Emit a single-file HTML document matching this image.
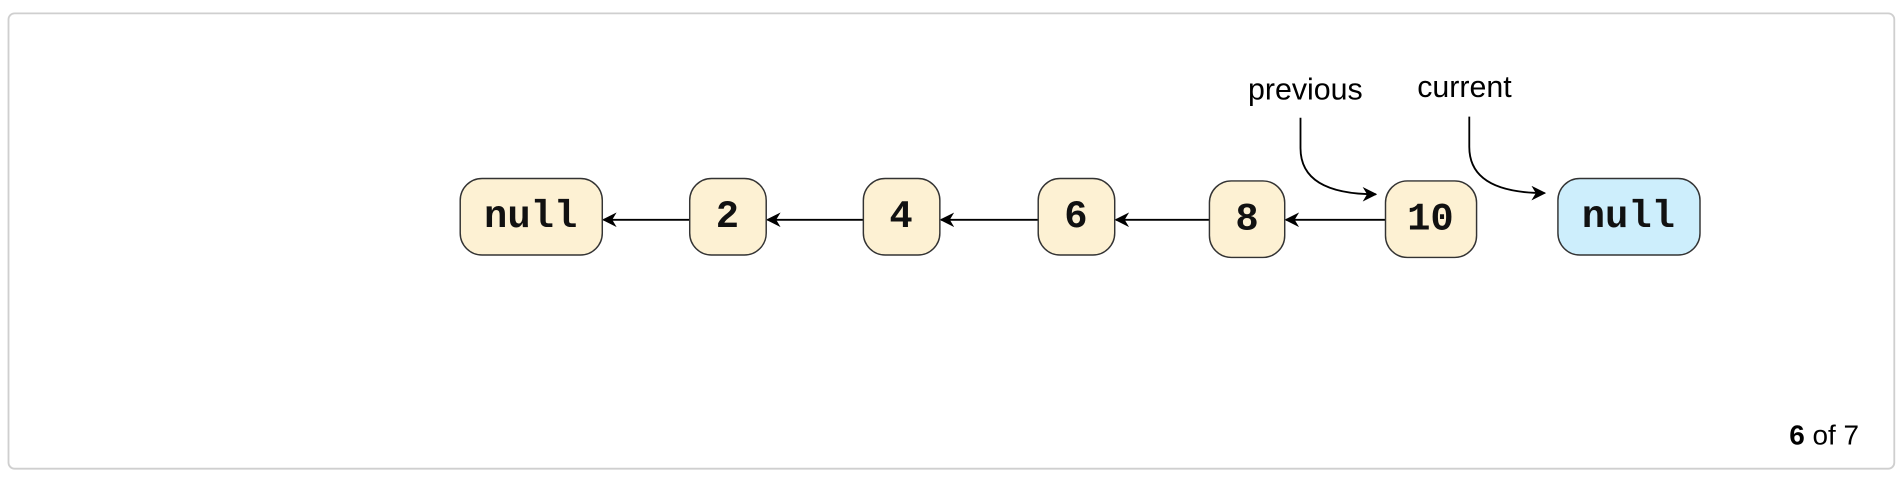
<!DOCTYPE html>
<html><head><meta charset="utf-8"><style>
html,body{margin:0;padding:0;background:#fff;width:1904px;height:484px;overflow:hidden}
svg{display:block}
</style></head><body>
<svg width="1904" height="484" viewBox="0 0 1568 398.6" preserveAspectRatio="none" xmlns="http://www.w3.org/2000/svg">
<defs>
<marker id="b" viewBox="0 0 10 10" refX="9" refY="5" markerWidth="12" markerHeight="12" orient="auto" markerUnits="userSpaceOnUse"><path d="M0,0 L10,5 L0,10 L3,5 Z" fill="#000"/></marker></defs>
<rect x="7" y="11" width="1553" height="375" rx="5" fill="#fff" stroke="#cfcfcf" stroke-width="1.5"/>
<g stroke="#000" stroke-width="1.5" fill="none">
<line x1="568" y1="181" x2="497" y2="181" marker-end="url(#b)"/>
<line x1="711" y1="181" x2="632" y2="181" marker-end="url(#b)"/>
<line x1="855" y1="181" x2="775" y2="181" marker-end="url(#b)"/>
<line x1="996" y1="181" x2="919" y2="181" marker-end="url(#b)"/>
<line x1="1141" y1="181" x2="1059" y2="181" marker-end="url(#b)"/>
<path d="M1071,97 L1071,122 Q1071,160 1133,160" marker-end="url(#b)"/>
<path d="M1210,96 L1210,121 Q1210,159 1272,159" marker-end="url(#b)"/>
</g>
<g stroke="#333" stroke-width="1.2">
<rect x="379" y="147" width="117" height="63" rx="18" fill="#fdf1d3"/>
<rect x="568" y="147" width="63" height="63" rx="18" fill="#fdf1d3"/>
<rect x="711" y="147" width="63" height="63" rx="18" fill="#fdf1d3"/>
<rect x="855" y="147" width="63" height="63" rx="18" fill="#fdf1d3"/>
<rect x="996" y="149" width="62" height="63" rx="18" fill="#fdf1d3"/>
<rect x="1141" y="149" width="75" height="63" rx="18" fill="#fdf1d3"/>
<rect x="1283" y="147" width="117" height="63" rx="18" fill="#cdeefc"/>
</g>
<g font-family="Liberation Mono, monospace" font-weight="bold" font-size="32" text-anchor="middle" fill="#111">
<text x="437" y="187">null</text>
<text x="599" y="187">2</text>
<text x="742" y="187">4</text>
<text x="886" y="187">6</text>
<text x="1027" y="189">8</text>
<text x="1178" y="189">10</text>
<text x="1341" y="187">null</text>
</g>
<g font-family="Liberation Sans, sans-serif" font-size="25" text-anchor="middle" fill="#000">
<text x="1075" y="82">previous</text>
<text x="1206" y="80">current</text>
</g>
<text x="1531" y="366" font-family="Liberation Sans, sans-serif" font-size="23" text-anchor="end"><tspan font-weight="bold">6</tspan> of 7</text>
</svg>
</body></html>
